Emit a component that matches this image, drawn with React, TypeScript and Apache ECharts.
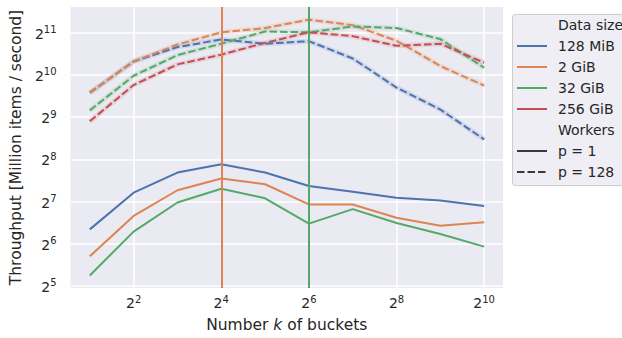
import React, { useEffect, useRef } from 'react';
import * as echarts from 'echarts';

// Number k of buckets
const buckets = [2, 4, 8, 16, 32, 64, 128, 256, 512, 1024];
const dataSizes = ['128 MiB', '2 GiB', '32 GiB', '256 GiB'];
const palette = ['#4C72B0', '#DD8452', '#55A868', '#C44E52'];

// Throughput [Million items / second], workers p = 1
const p1_128MiB = [81, 148, 206, 236, 206, 165, 150, 136, 130, 119];
const p1_2GiB = [52, 101, 154, 187, 170, 122, 122, 98, 86, 91];
const p1_32GiB = [38, 78, 126, 158, 135, 89, 113, 90, 75, 61];

// Throughput [Million items / second], workers p = 128
const p128_128MiB = [765, 1278, 1618, 1833, 1710, 1783, 1342, 832, 580, 355];
const p128_2GiB = [765, 1278, 1687, 2062, 2211, 2539, 2321, 1795, 1185, 861];
const p128_32GiB = [572, 1010, 1418, 1710, 2091, 2062, 2273, 2211, 1846, 1152];
const p128_256GiB = [478, 867, 1218, 1428, 1734, 2062, 1937, 1652, 1710, 1253];

// Highlighted bucket counts (vertical lines) and their data size colour index
const markedK = [16, 64];
const markedColorIdx = [1, 2];

const workersLabels = ['p = 1', 'p = 128'];

const FONT = '"DejaVu Sans", Verdana, sans-serif';
const TEXT = '#262626';
const DASH = [7.5, 3];

const toPts = (vals: number[]) => buckets.map((k, i) => [Math.log2(k), Math.log2(vals[i])]);

const supRich = {
  b: { fontSize: 14, fontFamily: FONT, color: TEXT, verticalAlign: 'bottom' },
  s: { fontSize: 10, fontFamily: FONT, color: TEXT, verticalAlign: 'bottom', padding: [0, 0, 6, 0] },
};
const powLabel = (v: number) =>
  Math.abs(v - Math.round(v)) < 1e-6 ? `{b|2}{s|${Math.round(v)}}` : '';

export default function App() {
  const ref = useRef<HTMLDivElement>(null);
  useEffect(() => {
    if (!ref.current) return;
    const chart = echarts.init(ref.current, undefined, { renderer: 'svg' });

    const solid = [p1_128MiB, p1_2GiB, p1_32GiB];
    const dashed = [p128_128MiB, p128_2GiB, p128_32GiB, p128_256GiB];

    const series: any[] = [];
    solid.forEach((vals, i) => {
      series.push({
        type: 'line',
        name: dataSizes[i] + ' p=1',
        data: toPts(vals),
        showSymbol: false,
        symbol: 'none',
        lineStyle: { color: palette[i], width: 2 },
        itemStyle: { color: palette[i] },
        emphasis: { disabled: true },
        z: 2,
      });
    });
    dashed.forEach((vals, i) => {
      series.push({
        type: 'line',
        name: dataSizes[i] + ' p=128 band',
        data: toPts(vals),
        showSymbol: false,
        symbol: 'none',
        lineStyle: { color: palette[i], width: 5, opacity: 0.15 },
        emphasis: { disabled: true },
        silent: true,
        z: 1,
      });
      series.push({
        type: 'line',
        name: dataSizes[i] + ' p=128',
        data: toPts(vals),
        showSymbol: false,
        symbol: 'none',
        lineStyle: { color: palette[i], width: 2, type: DASH },
        itemStyle: { color: palette[i] },
        emphasis: { disabled: true },
        z: 3,
      });
    });
    series.push({
      type: 'line',
      name: 'marks',
      data: [],
      z: 6,
      markLine: {
        silent: true,
        symbol: ['none', 'none'],
        label: { show: false },
        emphasis: { disabled: true },
        data: markedK.map((k, i) => ({
          xAxis: Math.log2(k),
          lineStyle: { color: palette[markedColorIdx[i]], width: 2, type: 'solid' },
        })),
      },
    });

    const legendChildren: any[] = [
      {
        type: 'rect',
        shape: { x: 0.5, y: 0.5, width: 140, height: 171, r: 3 },
        style: { fill: '#EEEEF4', stroke: '#CCCCCC', lineWidth: 1 },
      },
    ];
    const rowY = (r: number) => 11 + r * 21;
    const legendText = (t: string, r: number) => ({
      type: 'text',
      style: {
        text: t,
        x: 46,
        y: rowY(r),
        fill: TEXT,
        fontSize: 14,
        fontFamily: FONT,
        verticalAlign: 'middle',
        align: 'left',
      },
    });
    legendChildren.push(legendText('Data size', 0));
    dataSizes.forEach((d, i) => {
      legendChildren.push({
        type: 'line',
        shape: { x1: 5, y1: rowY(i + 1), x2: 35, y2: rowY(i + 1) },
        style: { stroke: palette[i], lineWidth: 2 },
      });
      legendChildren.push(legendText(d, i + 1));
    });
    legendChildren.push(legendText('Workers', 5));
    workersLabels.forEach((w, i) => {
      legendChildren.push({
        type: 'line',
        shape: { x1: 5, y1: rowY(6 + i), x2: 35, y2: rowY(6 + i) },
        style: { stroke: '#3a3a3a', lineWidth: 2, lineDash: i === 1 ? DASH : null },
      });
      legendChildren.push(legendText(w, 6 + i));
    });

    chart.setOption({
      animation: false,
      backgroundColor: '#ffffff',
      textStyle: { fontFamily: FONT, color: TEXT },
      grid: {
        left: 70,
        top: 7,
        right: 119,
        bottom: 50,
        show: true,
        backgroundColor: '#EAEAF2',
        borderWidth: 0,
      },
      xAxis: {
        type: 'value',
        min: 0.56,
        max: 10.43,
        splitNumber: 5,
        minInterval: 2,
        maxInterval: 2,
        axisLine: { show: false },
        axisTick: { show: false },
        splitLine: {
          show: true,
          showMinLine: false,
          showMaxLine: false,
          lineStyle: { color: '#ffffff', width: 1.5 },
        },
        axisLabel: {
          formatter: powLabel,
          rich: supRich,
          margin: 6,
          showMinLabel: false,
          showMaxLabel: false,
        },
        name: 'Number {i|k} of buckets',
        nameLocation: 'middle',
        nameGap: 29,
        nameTextStyle: {
          fontSize: 15.5,
          fontFamily: FONT,
          color: TEXT,
          rich: { i: { fontSize: 15.5, fontStyle: 'italic', fontFamily: FONT, color: TEXT } },
        },
      },
      yAxis: {
        type: 'value',
        min: 4.95,
        max: 11.61,
        minInterval: 1,
        maxInterval: 1,
        splitNumber: 6,
        axisLine: { show: false },
        axisTick: { show: false },
        splitLine: {
          show: true,
          showMinLine: false,
          showMaxLine: false,
          lineStyle: { color: '#ffffff', width: 1.5 },
        },
        axisLabel: {
          formatter: powLabel,
          rich: supRich,
          margin: 14,
          showMinLabel: false,
          showMaxLabel: false,
        },
        name: 'Throughput [Million items / second]',
        nameLocation: 'middle',
        nameGap: 35,
        nameTextStyle: { fontSize: 15.5, fontFamily: FONT, color: TEXT },
      },
      graphic: [{ type: 'group', x: 512, y: 14, children: legendChildren }],
      series,
    });
    return () => chart.dispose();
  }, []);
  return <div ref={ref} style={{ position: 'fixed', left: 0, top: 0, width: 622, height: 338 }} />;
}
